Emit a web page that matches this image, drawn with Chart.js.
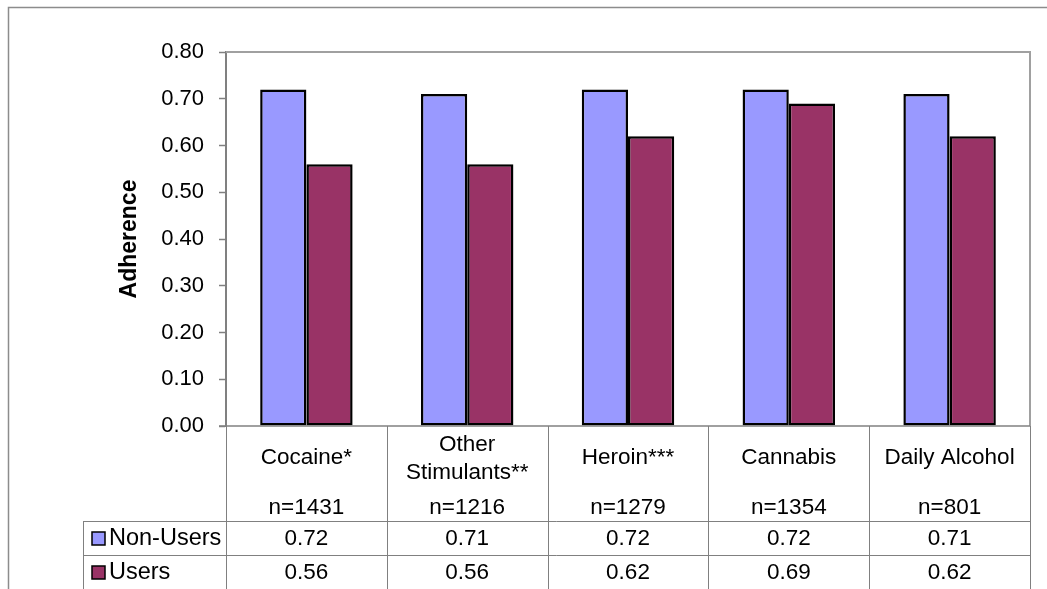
<!DOCTYPE html>
<html>
<head>
<meta charset="utf-8">
<title>Adherence by substance use</title>
<script src="https://cdn.jsdelivr.net/npm/chart.js@4/dist/chart.umd.min.js"></script>
<style>
  html, body { margin: 0; padding: 0; background: #ffffff; }
  canvas { display: block; }
</style>
</head>
<body>
<canvas id="chart" width="1047" height="589"></canvas>
<script>
// Substance categories (each entry is one or more lines of the header cell)
const categories = [["Cocaine*"], ["Other", "Stimulants**"], ["Heroin***"], ["Cannabis"], ["Daily Alcohol"]];
const sampleSizes = [1431, 1216, 1279, 1354, 801];
const seriesNames = ["Non-Users", "Users"];
const nonUsers = [0.72, 0.71, 0.72, 0.72, 0.71];
const users = [0.56, 0.56, 0.62, 0.69, 0.62];
const yTicks = [0, 0.1, 0.2, 0.3, 0.4, 0.5, 0.6, 0.7, 0.8];

const COLORS = ["#9999FF", "#993366"];
const FONT = "'Liberation Sans', Arial, Helvetica, sans-serif";
const GRID = "#808080";

// Frame, plot-area border and the data table underneath the bars
const tablePlugin = {
  id: "dataTable",
  beforeDraw(chart) {
    const ctx = chart.ctx;
    ctx.save();
    ctx.fillStyle = "#ffffff";
    ctx.fillRect(0, 0, chart.width, chart.height);
    // outer chart frame
    ctx.strokeStyle = "#8c8c8c";
    ctx.lineWidth = 1.5;
    ctx.beginPath();
    ctx.moveTo(8.5, chart.height + 2);
    ctx.lineTo(8.5, 7.5);
    ctx.lineTo(chart.width + 2, 7.5);
    ctx.stroke();
    ctx.restore();
  },
  afterDraw(chart) {
    const ctx = chart.ctx;
    const a = chart.chartArea;
    const x = chart.scales.x;
    const n = categories.length;
    const step = (a.right - a.left) / n;
    const headerBottom = a.bottom + 95;
    const row1Bottom = a.bottom + 129;
    const tableBottom = chart.height + 2;
    const legendLeft = 83.5;

    ctx.save();
    // plot area border (top and right)
    ctx.strokeStyle = "#a0a0a0";
    ctx.lineWidth = 2;
    ctx.beginPath();
    ctx.moveTo(a.left, a.top);
    ctx.lineTo(a.right, a.top);
    ctx.lineTo(a.right, a.bottom);
    ctx.stroke();

    // category axis line
    ctx.strokeStyle = GRID;
    ctx.lineWidth = 1.5;
    ctx.beginPath();
    ctx.moveTo(a.left - 7, a.bottom);
    ctx.lineTo(a.right, a.bottom);
    ctx.stroke();

    // table grid
    ctx.lineWidth = 1;
    ctx.beginPath();
    for (let k = 0; k <= n; k++) {
      const gx = Math.round(a.left + k * step) + 0.5;
      ctx.moveTo(gx, a.bottom);
      ctx.lineTo(gx, tableBottom);
    }
    [headerBottom, row1Bottom].forEach(y => {
      ctx.moveTo(legendLeft, Math.round(y) + 0.5);
      ctx.lineTo(a.right, Math.round(y) + 0.5);
    });
    ctx.moveTo(legendLeft, headerBottom);
    ctx.lineTo(legendLeft, tableBottom);
    ctx.stroke();

    // header cells: category name + sample size
    ctx.fillStyle = "#000000";
    ctx.font = "22.5px " + FONT;
    ctx.textAlign = "center";
    ctx.textBaseline = "middle";
    categories.forEach((lines, i) => {
      const cx = x.getPixelForValue(i);
      if (lines.length === 1) {
        ctx.fillText(lines[0], cx, a.bottom + 32);
      } else {
        ctx.fillText(lines[0], cx, a.bottom + 19);
        ctx.fillText(lines[1], cx, a.bottom + 46.5);
      }
      ctx.fillText("n=" + sampleSizes[i], cx, a.bottom + 82);
    });

    // value rows with legend keys
    const rows = [nonUsers, users];
    const rowCenters = [a.bottom + 113, a.bottom + 147];
    rows.forEach((vals, r) => {
      const cy = rowCenters[r];
      ctx.font = "22.5px " + FONT;
      ctx.textAlign = "center";
      vals.forEach((v, i) => {
        ctx.fillText(v.toFixed(2), x.getPixelForValue(i), cy);
      });
      ctx.fillStyle = COLORS[r];
      ctx.fillRect(92, cy - 7, 13, 13);
      ctx.strokeStyle = "#000000";
      ctx.lineWidth = 1.5;
      ctx.strokeRect(92, cy - 7, 13, 13);
      ctx.fillStyle = "#000000";
      ctx.textAlign = "left";
      ctx.font = "23.5px " + FONT;
      ctx.fillText(seriesNames[r], 109, cy);
    });
    ctx.restore();
  }
};

new Chart(document.getElementById("chart"), {
  type: "bar",
  data: {
    labels: categories.map(l => l.join(" ")),
    datasets: [
      { label: seriesNames[0], data: nonUsers, backgroundColor: COLORS[0] },
      { label: seriesNames[1], data: users, backgroundColor: COLORS[1] }
    ]
  },
  options: {
    responsive: false,
    devicePixelRatio: 1,
    animation: false,
    layout: { padding: { top: 52, right: 17, bottom: 163, left: 0 } },
    datasets: {
      bar: {
        barPercentage: 1,
        categoryPercentage: 0.575,
        borderColor: "#000000",
        borderWidth: 2.5,
        borderSkipped: false
      }
    },
    plugins: {
      legend: { display: false },
      tooltip: { enabled: false }
    },
    scales: {
      x: { type: "category", display: false },
      y: {
        min: yTicks[0],
        max: yTicks[yTicks.length - 1],
        afterBuildTicks(scale) {
          scale.ticks = yTicks.map(v => ({ value: v }));
        },
        afterFit(scale) { scale.width = 226; },
        ticks: {
          color: "#000000",
          font: { family: FONT, size: 22 },
          padding: 15,
          callback: v => Number(v).toFixed(2)
        },
        grid: {
          drawOnChartArea: false,
          drawTicks: true,
          tickLength: 7,
          tickWidth: 1.5,
          tickColor: GRID
        },
        border: { color: GRID, width: 2 },
        title: {
          display: true,
          text: "Adherence",
          color: "#000000",
          font: { family: FONT, size: 23, weight: "bold" },
          padding: { top: 116, bottom: 0 }
        }
      }
    }
  },
  plugins: [tablePlugin]
});
</script>
</body>
</html>
